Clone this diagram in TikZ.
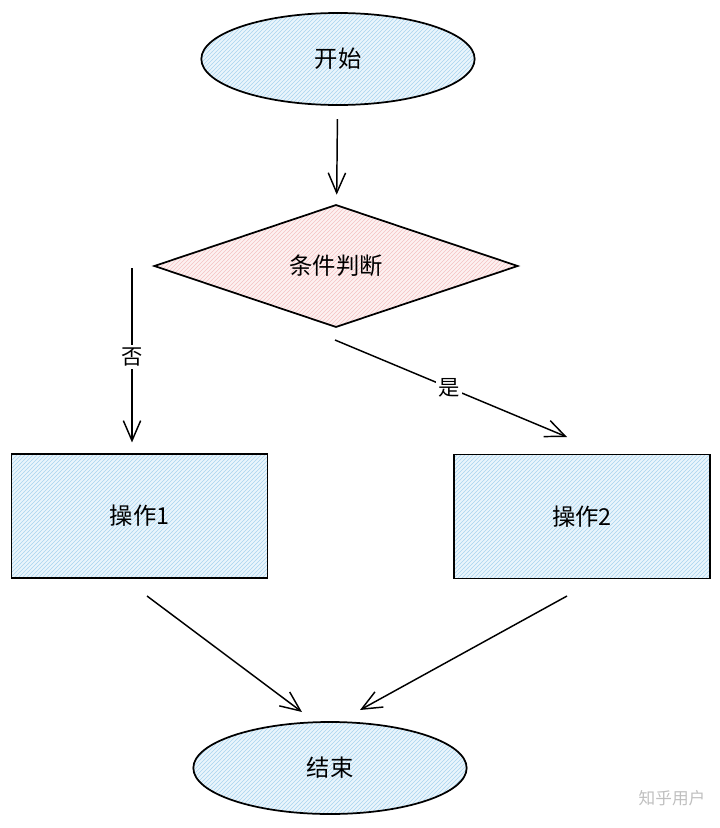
\documentclass[tikz,border=0pt]{standalone}
\usepackage{fontspec}
\setmainfont{Noto Sans CJK SC}
\usetikzlibrary{shapes.geometric,arrows.meta,patterns}
\definecolor{bluefill}{HTML}{EAF5FC}
\definecolor{bluehatch}{HTML}{A9D3EF}
\definecolor{pinkfill}{HTML}{FDF1F1}
\definecolor{pinkhatch}{HTML}{F4C2C2}
\tikzset{
  sketch/.style={draw=black, line width=1.3pt},
  bluebox/.style={sketch, preaction={fill=bluefill}, pattern=north east lines, pattern color=bluehatch},
  pinkbox/.style={sketch, preaction={fill=pinkfill}, pattern=north east lines, pattern color=pinkhatch},
  term/.style={bluebox, ellipse, inner sep=0pt, minimum width=205pt, minimum height=69pt},
  cond/.style={pinkbox, diamond, aspect=3, inner sep=0pt, minimum width=273pt, minimum height=92pt},
  opbox/.style={bluebox, rectangle, inner sep=0pt, minimum width=192pt, minimum height=93pt},
  conn/.style={line width=1.1pt, -{Straight Barb[length=15pt, width=13pt, line width=1.1pt]}},
  lbl/.style={fill=white, inner sep=2pt, font=\fontsize{16}{19}\selectfont},
  txt/.style={font=\fontsize{17.5}{21}\selectfont}
}
\begin{document}
\begin{tikzpicture}[x=0.75pt,y=-0.75pt]
\useasboundingbox (0,0) rectangle (720,828);
\node[term, txt] (start) at (338,59) {开始};
\node[cond, txt] (judge) at (336,266) {条件判断};
\node[opbox, txt] (op1) at (139.5,516) {操作1};
\node[opbox, txt] (op2) at (582,516.5) {操作2};
\node[term, txt] (stop) at (330,768) {结束};
\coordinate (nostart) at (132,268);
\coordinate (yesstart) at (335,340);
\coordinate (yesend) at (567,437);
\coordinate (o1s) at (147,596);
\coordinate (o1e) at (302,712);
\coordinate (o2s) at (567,596);
\coordinate (o2e) at (360,710);
\draw[conn, shorten <=10pt, shorten >=7pt] (start) -- (judge);
\draw[conn, shorten >=8pt] (nostart) -- (nostart |- op1.north);
\node[lbl] (no) at (132,357) {否};
\draw[conn] (yesstart) -- (yesend);
\node[lbl] (yes) at (449,388) {是};
\draw[conn] (o1s) -- (o1e);
\draw[conn] (o2s) -- (o2e);
\node[text=gray!50, font=\fontsize{12.5}{14}\selectfont] (wm) at (672,798) {知乎用户};
\end{tikzpicture}
\end{document}
